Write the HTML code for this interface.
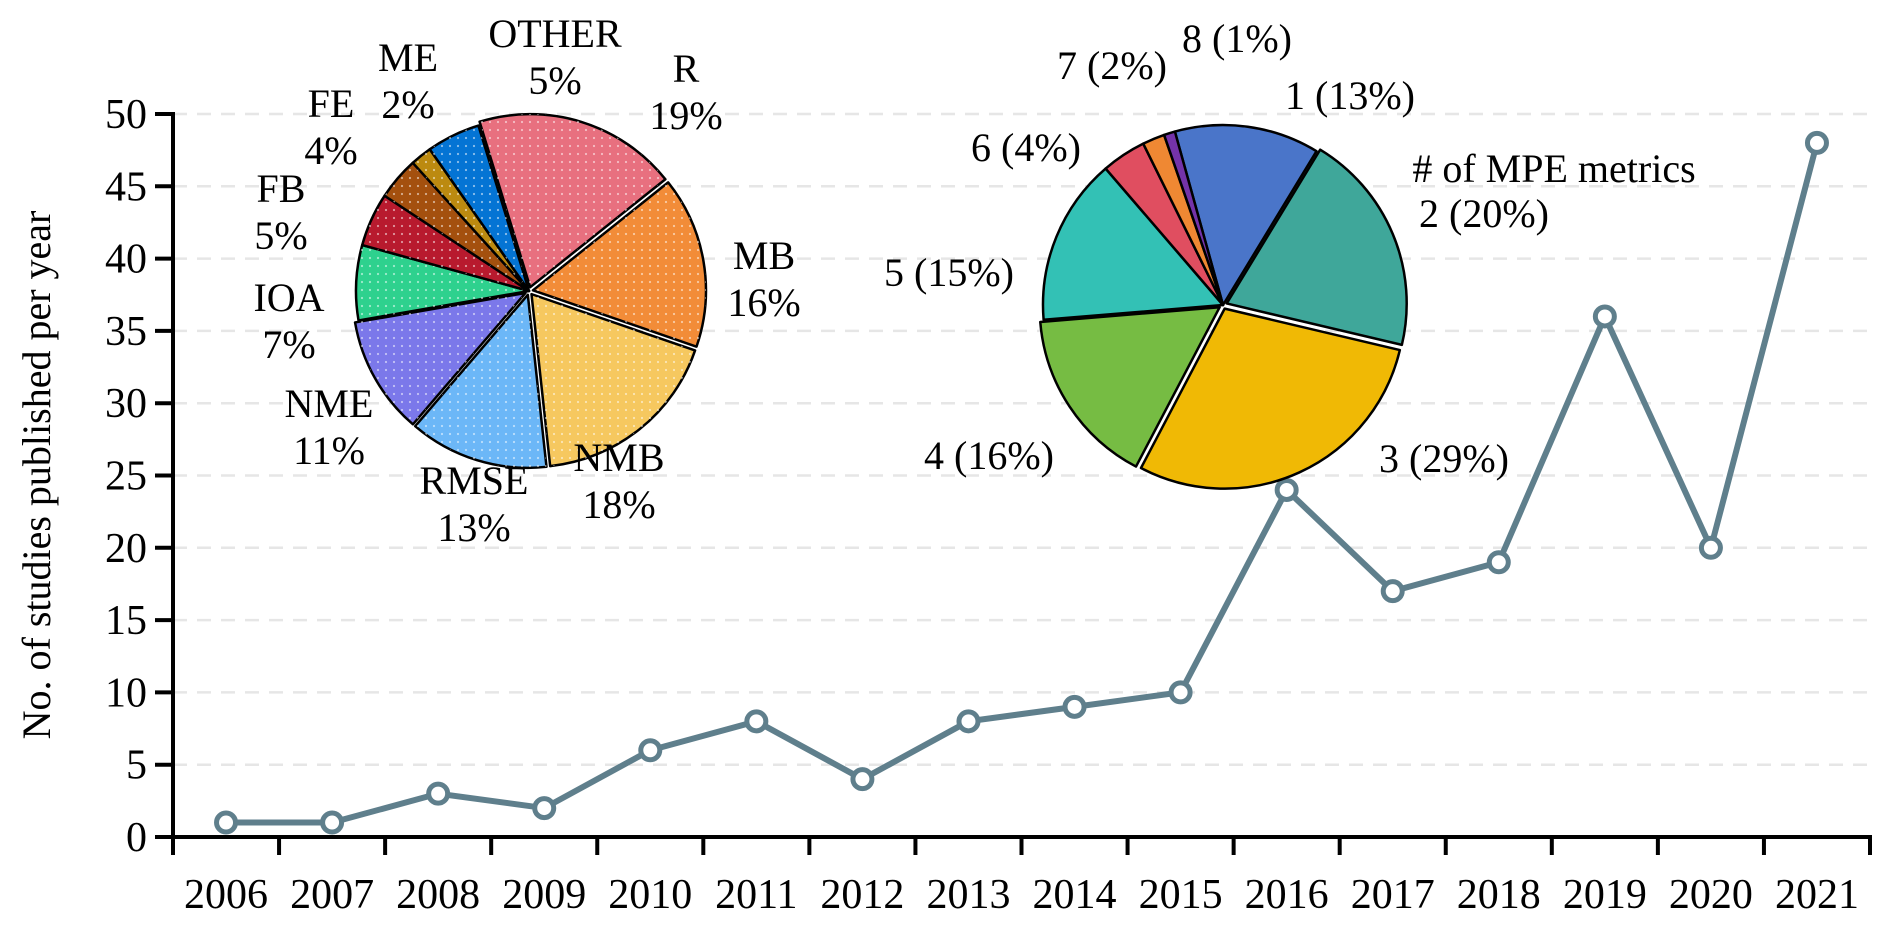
<!DOCTYPE html>
<html><head><meta charset="utf-8"><style>
html,body{margin:0;padding:0;background:#fff;}
svg{display:block;font-family:"Liberation Serif",serif;}
</style></head><body>
<svg id="chart" width="1892" height="928" viewBox="0 0 1892 928" xmlns="http://www.w3.org/2000/svg">
<defs>
<pattern id="dots" width="8" height="8" patternUnits="userSpaceOnUse">
<circle cx="2" cy="2" r="1.1" fill="#fff" fill-opacity="0.55"/>
</pattern>
</defs>
<g id="grid"></g>
<g id="axes"></g>
<g id="series"></g>
<g id="pie1"></g>
<g id="pie2"></g>
<text x="0" y="0" font-size="40" text-anchor="middle" transform="translate(50,475) rotate(-90)">No. of studies published per year</text>
</svg>
<script>
const years = ["2006","2007","2008","2009","2010","2011","2012","2013","2014","2015","2016","2017","2018","2019","2020","2021"];
const studies = [1,1,3,2,6,8,4,8,9,10,24,17,19,36,20,48];
const yTicks = [0,5,10,15,20,25,30,35,40,45,50];

const pie1Labels = ["R","MB","NMB","RMSE","NME","IOA","FB","FE","ME","OTHER"];
const pie1Values = [19,16,18,13,11,7,5,4,2,5];
const pie1Colors = ["#e8707f","#f28c38","#f6c85f","#6cb7f7","#7b78ea","#2ed18e","#b81a2e","#a4500e","#bc8a10","#0474d4"];
const pie1Explode = [1,1,1,1,1,0,0,0,0,0];
const pie1LabelPos = [[686,68],[764,255],[619,457],[474,480],[329,403],[289,297],[281,188],[331,103],[408,57],[555,33]];

const pie2Labels = ["1","2","3","4","5","6","7","8"];
const pie2Values = [13,20,29,16,15,4,2,1];
const pie2Colors = ["#4a75c9","#3fa79a","#f0b905","#76bc43","#33c1b5","#e04e60","#ef8833","#7433a9"];
const pie2Explode = [0,1,1,1,0,0,0,0];
const pie2LabelPos = [[1350,95],[1484,213],[1444,458],[989,455],[949,272],[1026,147],[1112,65],[1237,38]];

const NS="http://www.w3.org/2000/svg";
function mk(tag,attrs,parent){const e=document.createElementNS(NS,tag);for(const k in attrs)e.setAttribute(k,attrs[k]);parent.appendChild(e);return e;}
const X0=173, X1=1870, Y0=837, Y50=114;
const band=(X1-X0)/years.length;
const xs=i=>X0+band*(i+0.5);
const ys=v=>Y0-(v/50)*(Y0-Y50);

const grid=document.getElementById('grid');
const axes=document.getElementById('axes');
yTicks.forEach(t=>{
  if(t>0){const g=mk('line',{x1:X0,x2:X1,y1:ys(t),y2:ys(t),stroke:'#e6e6e6','stroke-width':2.5,'stroke-dasharray':'14 10'},grid);
  
  }
  const tk=mk('line',{x1:X0-18,x2:X0,y1:ys(t),y2:ys(t),stroke:'#000','stroke-width':4},axes);
  
  
  const tl=mk('text',{x:X0-26,y:ys(t)+14,'font-size':42,'text-anchor':'end'},axes);
  tl.textContent=t;
  
  
});
const ya=mk('line',{x1:X0,x2:X0,y1:Y50-2,y2:Y0+2,stroke:'#000','stroke-width':4},axes);


const xa=mk('line',{x1:X0-18,x2:X1+2,y1:Y0,y2:Y0,stroke:'#000','stroke-width':4},axes);


for(let i=0;i<=years.length;i++){
  const x=X0+band*i;
  const tk=mk('line',{x1:x,x2:x,y1:Y0,y2:Y0+18,stroke:'#000','stroke-width':4},axes);
  
  
}
years.forEach((y,i)=>{
  const t=mk('text',{x:xs(i),y:908,'font-size':42,'text-anchor':'middle'},axes);
  t.textContent=y;
  
  
});

const series=document.getElementById('series');
const pl=mk('polyline',{points:studies.map((v,i)=>xs(i)+','+ys(v)).join(' '),fill:'none',stroke:'#5f7f8c','stroke-width':6,'stroke-linejoin':'miter'},series);



function drawPie(g,labels,values,colors,explode,cx,cy,r,startDeg,pattern,labelPos,fmt){
  const tot=values.reduce((a,b)=>a+b,0);
  let a=startDeg;
  values.forEach((v,i)=>{
    const sw=v/tot*360, a0=a, a1=a+sw, mid=(a0+a1)/2*Math.PI/180;
    const off=explode[i]?4:0;
    const ox=cx+off*Math.sin(mid), oy=cy-off*Math.cos(mid);
    const p=d=>[ox+r*Math.sin(d*Math.PI/180), oy-r*Math.cos(d*Math.PI/180)];
    const [x0,y0]=p(a0),[x1,y1]=p(a1);
    const d=`M${ox},${oy} L${x0},${y0} A${r},${r} 0 ${sw>180?1:0} 1 ${x1},${y1} Z`;
    const s=mk('path',{d:d,fill:colors[i],stroke:'#000','stroke-width':2.5,'stroke-linejoin':'round'},g);
    
    
    if(pattern){const pt=mk('path',{d:d,fill:'url(#dots)',stroke:'none'},g);
      
      }
    fmt(g,labels[i],v,labelPos[i]);
    a=a1;
  });
}
drawPie(document.getElementById('pie1'),pie1Labels,pie1Values,pie1Colors,pie1Explode,529,291,173,-17,true,pie1LabelPos,(g,l,v,pos)=>{
  const t=mk('text',{x:pos[0],y:pos[1]+14,'font-size':40,'text-anchor':'middle'},g);
  t.textContent=l;
  
  
  const t2=mk('text',{x:pos[0],y:pos[1]+61,'font-size':40,'text-anchor':'middle'},g);
  t2.textContent=v+'%';
  
  
});
drawPie(document.getElementById('pie2'),pie2Labels,pie2Values,pie2Colors,pie2Explode,1223,305,180,-15.5,false,pie2LabelPos,(g,l,v,pos)=>{
  const t=mk('text',{x:pos[0],y:pos[1]+14,'font-size':40,'text-anchor':'middle'},g);
  t.textContent=l+' ('+v+'%)';
  
  
});
const pt=mk('text',{x:1554,y:182,'font-size':40,'text-anchor':'middle'},document.getElementById('pie2'));
pt.textContent='# of MPE metrics';



studies.forEach((v,i)=>{
  const c=mk('circle',{cx:xs(i),cy:ys(v),r:9.5,fill:'#fff',stroke:'#5f7f8c','stroke-width':5},series);
  
  
});
</script>
</body></html>
